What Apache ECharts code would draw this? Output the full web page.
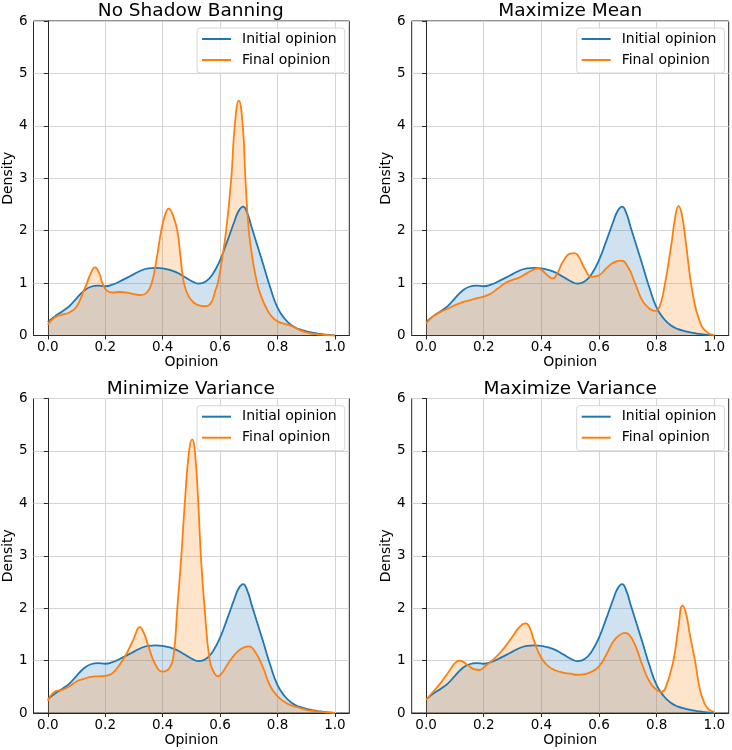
<!DOCTYPE html>
<html>
<head>
<meta charset="utf-8">
<script src="https://cdn.jsdelivr.net/npm/echarts@6/dist/echarts.min.js"></script>
<style>
    html, body {
        margin: 0;
        padding: 0;
        background: #fff;
    }
</style>
</head>
<body>
<div id="main" style="width:732px;height:750px"></div>
<script>
    // panel titles, in reading order
    var panelTitles = ['No Shadow Banning', 'Maximize Mean', 'Minimize Variance', 'Maximize Variance'];
    var seriesNames = ['Initial opinion', 'Final opinion'];
    var xTickValues = [0, 0.2, 0.4, 0.6, 0.8, 1.0];

    // [opinion, density]; initial curve is the same in every panel
    var initialOpinion = [[0, 0.26], [0.025, 0.37], [0.05, 0.46], [0.075, 0.56], [0.1, 0.71], [0.125, 0.85],
        [0.15, 0.93], [0.175, 0.95], [0.2, 0.94], [0.225, 0.97], [0.25, 1.03], [0.275, 1.10], [0.3, 1.17],
        [0.325, 1.24], [0.35, 1.28], [0.375, 1.29], [0.4, 1.28], [0.425, 1.25], [0.45, 1.20], [0.475, 1.12],
        [0.5, 1.04], [0.525, 0.99], [0.55, 1.03], [0.575, 1.18], [0.6, 1.44], [0.625, 1.80], [0.65, 2.18],
        [0.665, 2.38], [0.68, 2.46], [0.695, 2.33], [0.71, 2.06], [0.725, 1.80], [0.75, 1.36], [0.775, 0.91],
        [0.8, 0.53], [0.825, 0.32], [0.85, 0.19], [0.875, 0.12], [0.9, 0.08], [0.925, 0.05], [0.95, 0.03],
        [0.975, 0.01], [1, 0.0]];

    var noBanFinal = [[0, 0.21], [0.025, 0.35], [0.05, 0.40], [0.075, 0.44], [0.1, 0.55], [0.121, 0.8],
        [0.136, 1.0], [0.15, 1.19], [0.164, 1.30], [0.178, 1.2], [0.19, 1.0], [0.205, 0.86], [0.225, 0.82],
        [0.25, 0.83], [0.275, 0.82], [0.3, 0.79], [0.324, 0.77], [0.345, 0.82], [0.362, 1.0], [0.38, 1.5],
        [0.395, 2.0], [0.41, 2.33], [0.421, 2.42], [0.435, 2.3], [0.451, 2.0], [0.462, 1.5], [0.474, 1.0],
        [0.49, 0.75], [0.51, 0.62], [0.53, 0.57], [0.55, 0.56], [0.57, 0.64], [0.583, 0.85], [0.592, 1.0],
        [0.605, 1.4], [0.621, 2.0], [0.639, 3.0], [0.651, 4.0], [0.665, 4.48], [0.679, 4.0], [0.688, 3.0],
        [0.7, 2.0], [0.712, 1.5], [0.729, 1.0], [0.745, 0.72], [0.763, 0.5], [0.78, 0.36], [0.8, 0.27],
        [0.825, 0.22], [0.85, 0.18], [0.875, 0.11], [0.9, 0.06], [0.925, 0.03], [0.95, 0.015], [0.975, 0.005],
        [1, 0]];

    var maxMeanFinal = [[0, 0.23], [0.025, 0.37], [0.05, 0.45], [0.075, 0.51], [0.1, 0.58], [0.125, 0.63],
        [0.15, 0.67], [0.175, 0.71], [0.2, 0.74], [0.225, 0.80], [0.25, 0.90], [0.275, 1.0], [0.3, 1.06],
        [0.325, 1.11], [0.35, 1.19], [0.375, 1.26], [0.39, 1.28], [0.405, 1.23], [0.425, 1.13], [0.44, 1.09],
        [0.455, 1.18], [0.475, 1.41], [0.5, 1.56], [0.515, 1.57], [0.53, 1.5], [0.55, 1.28], [0.575, 1.12],
        [0.6, 1.15], [0.625, 1.28], [0.65, 1.39], [0.675, 1.43], [0.7, 1.31], [0.725, 1.0], [0.75, 0.67],
        [0.775, 0.51], [0.797, 0.47], [0.81, 0.55], [0.825, 0.87], [0.85, 1.7], [0.865, 2.28], [0.876, 2.47],
        [0.887, 2.32], [0.9, 1.83], [0.925, 0.80], [0.95, 0.26], [0.975, 0.06], [1, 0.01]];

    var minVarFinal = [[0, 0.23], [0.025, 0.41], [0.05, 0.44], [0.075, 0.51], [0.1, 0.6], [0.125, 0.65],
        [0.15, 0.69], [0.175, 0.70], [0.2, 0.71], [0.225, 0.76], [0.25, 0.92], [0.275, 1.14], [0.3, 1.43],
        [0.32, 1.64], [0.335, 1.52], [0.35, 1.28], [0.375, 0.92], [0.4, 0.79], [0.425, 0.87], [0.438, 1.1],
        [0.451, 2.0], [0.465, 3.0], [0.477, 4.0], [0.492, 5.0], [0.503, 5.22], [0.512, 5.0], [0.524, 4.0],
        [0.533, 3.0], [0.546, 2.0], [0.564, 1.0], [0.58, 0.76], [0.592, 0.70], [0.605, 0.75], [0.625, 0.92],
        [0.65, 1.11], [0.675, 1.23], [0.7, 1.27], [0.725, 1.14], [0.75, 0.86], [0.775, 0.51], [0.8, 0.32],
        [0.825, 0.21], [0.85, 0.14], [0.875, 0.10], [0.9, 0.06], [0.925, 0.04], [0.95, 0.025], [0.975, 0.01],
        [1, 0]];

    var maxVarFinal = [[0, 0.25], [0.025, 0.41], [0.05, 0.57], [0.075, 0.76], [0.1, 0.95], [0.115, 1.0],
        [0.13, 0.97], [0.15, 0.89], [0.17, 0.83], [0.185, 0.82], [0.2, 0.87], [0.225, 0.98], [0.25, 1.11],
        [0.275, 1.27], [0.3, 1.46], [0.325, 1.65], [0.345, 1.71], [0.36, 1.62], [0.375, 1.37], [0.4, 1.05],
        [0.425, 0.89], [0.45, 0.81], [0.475, 0.77], [0.5, 0.75], [0.525, 0.73], [0.55, 0.74], [0.575, 0.79],
        [0.6, 0.89], [0.625, 1.11], [0.65, 1.37], [0.675, 1.5], [0.69, 1.53], [0.705, 1.49], [0.725, 1.30],
        [0.75, 0.92], [0.775, 0.60], [0.8, 0.44], [0.815, 0.40], [0.83, 0.47], [0.858, 1.0], [0.875, 1.62],
        [0.89, 2.05], [0.902, 1.9], [0.915, 1.5], [0.933, 1.0], [0.95, 0.45], [0.965, 0.2], [0.98, 0.07],
        [1, 0.02]];

    var finalOpinions = [noBanFinal, maxMeanFinal, minVarFinal, maxVarFinal];

    var font = 'DejaVu Sans';
    var blue = '#1f77b4';
    var orange = '#ff7f0e';

    // panel frames in pixels: [left, top]
    var panelLeft = [32.3, 411.7, 32.3, 411.7];
    var panelTop = [21, 21, 398.5, 398.5];
    var panelW = 317;
    var panelH = 314.5;
    var legendLeft = [197, 576.7, 197, 576.7];
    var legendTop = [28, 28, 405.7, 405.7];
    var titleTop = [2, 2, 379.5, 379.5];

    var grids = [], xAxes = [], yAxes = [], titles = [], legends = [], series = [];

    for (var i = 0; i < 4; i++) {
        grids.push({
            left: panelLeft[i], top: panelTop[i], width: panelW, height: panelH,
            show: true, borderColor: '#262626', borderWidth: 1, backgroundColor: '#fff'
        });
        xAxes.push({
            gridIndex: i, type: 'value', min: -0.05, max: 1.05,
            name: 'Opinion', nameLocation: 'middle', nameGap: 19,
            nameTextStyle: {fontFamily: font, fontSize: 14, color: '#000'},
            axisLine: {show: true, onZero: false, lineStyle: {color: '#262626', width: 1}},
            axisTick: {show: true, length: 4, customValues: xTickValues, lineStyle: {color: '#262626'}},
            axisLabel: {
                customValues: xTickValues, margin: 5, fontFamily: font, fontSize: 13.5, color: '#000',
                formatter: function (v) { return v.toFixed(1); }
            },
            splitLine: {show: true, lineStyle: {color: '#d4d4d4', width: 1}}
        });
        yAxes.push({
            gridIndex: i, type: 'value', min: 0, max: 6, interval: 1,
            name: 'Density', nameLocation: 'middle', nameGap: 15, nameRotate: 90,
            nameTextStyle: {fontFamily: font, fontSize: 14, color: '#000'},
            axisLine: {show: true, lineStyle: {color: '#262626', width: 1}},
            axisTick: {show: true, length: 4, lineStyle: {color: '#262626'}},
            axisLabel: {margin: 6, fontFamily: font, fontSize: 13.5, color: '#000'},
            splitLine: {show: true, lineStyle: {color: '#d4d4d4', width: 1}}
        });
        titles.push({
            text: panelTitles[i], left: panelLeft[i] + panelW / 2, top: titleTop[i], textAlign: 'center',
            padding: 0,
            textStyle: {fontFamily: font, fontSize: 18.5, fontWeight: 'normal', color: '#000'}
        });
        legends.push({
            data: seriesNames, orient: 'vertical', left: legendLeft[i], top: legendTop[i],
            icon: 'rect', itemWidth: 29, itemHeight: 2, itemGap: 7, padding: [4, 8, 6, 5],
            backgroundColor: 'rgba(255,255,255,0.8)', borderColor: '#d6d6d6', borderWidth: 1, borderRadius: 3,
            selectedMode: false,
            textStyle: {fontFamily: font, fontSize: 14, color: '#000', padding: [0, 0, 0, 6], lineHeight: 14}
        });
        series.push({
            name: seriesNames[0], type: 'line', xAxisIndex: i, yAxisIndex: i,
            data: initialOpinion, smooth: 0.5, symbol: 'none',
            lineStyle: {color: blue, width: 1.8}, itemStyle: {color: blue},
            areaStyle: {color: 'rgba(31,119,180,0.3)', origin: 'start'}
        });
        series.push({
            name: seriesNames[1], type: 'line', xAxisIndex: i, yAxisIndex: i,
            data: finalOpinions[i], smooth: 0.5, symbol: 'none',
            lineStyle: {color: orange, width: 1.8}, itemStyle: {color: orange},
            areaStyle: {color: 'rgba(255,127,14,0.3)', origin: 'start'}
        });
    }

    var myChart = echarts.init(document.getElementById('main'));
    myChart.setOption({
        animation: false,
        backgroundColor: '#fff',
        title: titles,
        legend: legends,
        grid: grids,
        xAxis: xAxes,
        yAxis: yAxes,
        series: series
    });
</script>
</body>
</html>
